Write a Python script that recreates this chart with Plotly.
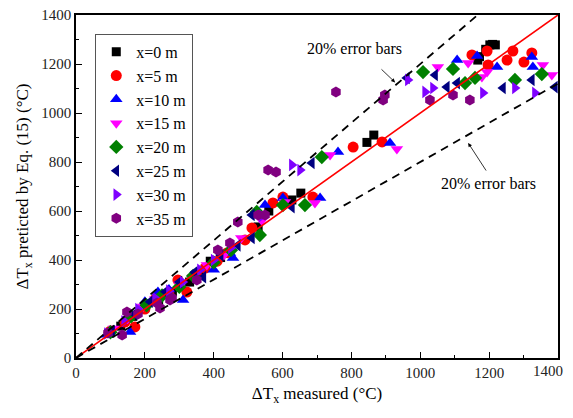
import plotly.graph_objects as go

# measured / predicted temperature rise for each distance x
x0_meas = [95, 130, 165, 200, 240, 280, 330, 360, 390, 420, 529, 560, 627, 653, 845, 865, 1167, 1172, 1190, 1202, 1210, 1218]
x0_pred = [100, 130, 170, 205, 235, 270, 310, 350, 395, 410, 535, 600, 645, 673, 880, 910, 1216, 1230, 1260, 1278, 1280, 1278]

x5_meas = [100, 142, 171, 200, 230, 270, 296, 322, 350, 375, 410, 440, 491, 511, 572, 601, 688, 805, 889, 1150, 1194, 1197, 1252, 1269, 1301, 1324]
x5_pred = [110, 147, 127, 200, 240, 260, 318, 269, 340, 367, 395, 430, 482, 531, 633, 657, 657, 861, 882, 1237, 1253, 1196, 1216, 1253, 1208, 1245]

x10_meas = [90, 157, 200, 238, 270, 311, 350, 400, 447, 456, 549, 601, 709, 761, 912, 1107, 1165, 1223, 1324, 1327]
x10_pred = [95, 106, 230, 269, 280, 237, 330, 360, 429, 408, 624, 653, 653, 841, 878, 1216, 1233, 1188, 1229, 1188]

x15_meas = [110, 150, 195, 230, 260, 300, 340, 380, 430, 480, 540, 607, 694, 738, 932, 1051, 1139, 1179, 1194, 1356, 1382]
x15_pred = [120, 160, 210, 240, 260, 300, 330, 380, 420, 490, 560, 637, 633, 829, 853, 1188, 1204, 1147, 1167, 1196, 1155]

x20_meas = [100, 160, 205, 250, 300, 340, 400, 450, 525, 534, 601, 665, 714, 1008, 1095, 1130, 1159, 1275, 1353]
x20_pred = [105, 170, 215, 255, 290, 335, 390, 440, 596, 502, 624, 624, 820, 1167, 1180, 1122, 1143, 1135, 1159]

x25_meas = [105, 170, 215, 260, 300, 345, 370, 420, 470, 511, 511, 627, 685, 961, 1043, 1077, 1107, 1240, 1324, 1391]
x25_pred = [110, 180, 230, 270, 310, 350, 330, 420, 460, 584, 490, 616, 796, 1143, 1155, 1106, 1122, 1102, 1135, 1106]

x30_meas = [90, 140, 180, 230, 270, 310, 360, 400, 450, 540, 627, 651, 964, 1014, 1037, 1182, 1275, 1333]
x30_pred = [100, 150, 200, 245, 275, 310, 360, 400, 450, 580, 788, 767, 1135, 1086, 1102, 1082, 1102, 1082]

x35_meas = [93, 134, 148, 180, 235, 244, 273, 279, 351, 412, 447, 470, 529, 549, 558, 581, 755, 892, 897, 1028, 1095, 1144]
x35_pred = [102, 94, 188, 180, 224, 204, 237, 245, 318, 441, 469, 555, 584, 584, 767, 759, 1086, 1053, 1073, 1053, 1073, 1053]

tick_vals = [0, 200, 400, 600, 800, 1000, 1200, 1400]
tick_text = ["0", "200", "400", "600", "800", "1000", "1200", "1400"]

line_x = [0, 1400]
error_ratio = 0.2

SERIF = "Liberation Serif, Times New Roman, serif"

series = [
    ("x=0 m", x0_meas, x0_pred, "square", "black", 9),
    ("x=5 m", x5_meas, x5_pred, "circle", "#ff0000", 11),
    ("x=10 m", x10_meas, x10_pred, "triangle-up", "#0000ff", 11),
    ("x=15 m", x15_meas, x15_pred, "triangle-down", "#ff00ff", 11),
    ("x=20 m", x20_meas, x20_pred, "diamond", "#008000", 11),
    ("x=25 m", x25_meas, x25_pred, "triangle-left", "#000080", 11),
    ("x=30 m", x30_meas, x30_pred, "triangle-right", "#7f00ff", 11),
    ("x=35 m", x35_meas, x35_pred, "hexagon", "#800080", 11),
]

fig = go.Figure()

for name, xs, ys, symbol, color, size in series:
    fig.add_trace(go.Scatter(
        x=xs, y=ys, mode="markers", name=name,
        marker=dict(symbol=symbol, color=color, size=size, line=dict(width=0)),
    ))

# 1:1 line and +/-20% bounds
fig.add_trace(go.Scatter(
    x=line_x, y=line_x, mode="lines", showlegend=False,
    line=dict(color="#ff0000", width=1.6),
))
for f in (1 + error_ratio, 1 - error_ratio):
    fig.add_trace(go.Scatter(
        x=line_x, y=[v * f for v in line_x], mode="lines", showlegend=False,
        line=dict(color="black", width=1.8, dash="8px,6px"),
    ))

ann_font = dict(family=SERIF, size=16, color="black")
fig.add_annotation(x=810, y=1265, text="20% error bars", showarrow=False, font=ann_font)
fig.add_annotation(x=927, y=1125, ax=883, ay=1184, axref="x", ayref="y", text="",
                   showarrow=True, arrowhead=2, arrowsize=1, arrowwidth=0.8, arrowcolor="black")
fig.add_annotation(x=1197, y=714, text="20% error bars", showarrow=False, font=ann_font)
fig.add_annotation(x=1139, y=878, ax=1194, ay=759, axref="x", ayref="y", text="",
                   showarrow=True, arrowhead=2, arrowsize=1, arrowwidth=0.8, arrowcolor="black")

tick_font = dict(family=SERIF, size=15, color="#222")

# last x label would be cut by the window edge, draw it nudged left instead
fig.add_annotation(x=tick_vals[-1], y=0, xref="x", yref="paper", text=tick_text[-1],
                   showarrow=False, xanchor="right", yanchor="top", xshift=7, yshift=-3,
                   font=tick_font)

axis_common = dict(
    range=[0, 1400], ticks="inside", ticklen=6, tickwidth=1.2, tickcolor="black",
    showline=True, linecolor="black", linewidth=1.5, mirror=True,
    showgrid=False, zeroline=False, automargin=False, ticklabeloverflow="allow",
    tickfont=tick_font,
    minor=dict(dtick=100, ticks="inside", ticklen=3, tickcolor="black"),
)

fig.update_xaxes(
    **axis_common,
    tickmode="array", tickvals=tick_vals, ticktext=tick_text[:-1] + [""],
    title=dict(text="ΔT<sub>x</sub> measured (°C)", font=dict(family=SERIF, size=17, color="black"), standoff=8),
)
fig.update_yaxes(
    **axis_common,
    dtick=200,
    title=dict(text="ΔT<sub>x</sub> preticted by Eq. (15) (°C)", font=dict(family=SERIF, size=17, color="black"), standoff=8),
)

# page body adds ~8px offset, so the figure is shrunk to fit the window
fig.update_layout(
    width=565, height=398,
    margin=dict(l=68, r=15, t=7, b=48),
    plot_bgcolor="white", paper_bgcolor="white",
    legend=dict(
        x=0.04, y=0.945, xanchor="left", yanchor="top",
        bgcolor="white", bordercolor="#555", borderwidth=1,
        font=dict(family=SERIF, size=16, color="black"),
        tracegroupgap=0,
    ),
)

fig.write_html("out.html")
